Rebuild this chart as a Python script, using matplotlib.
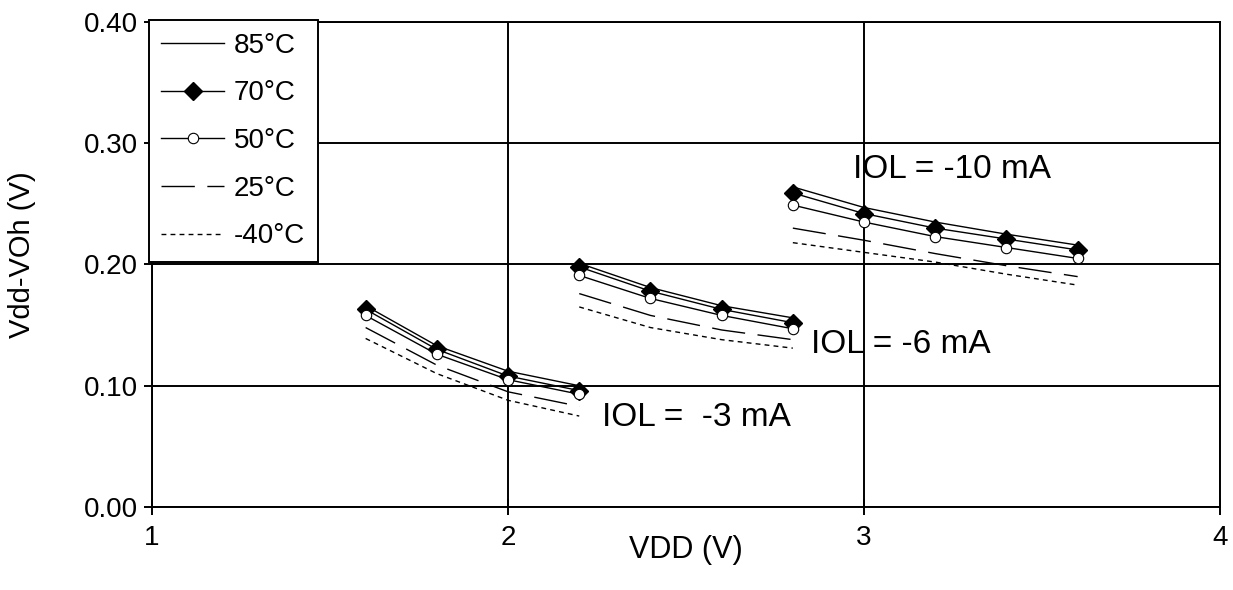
# %%
# Vdd-VOh vs VDD for three IOL loads at five temperatures
import numpy as np
import matplotlib.pyplot as plt

plt.rcParams['font.family'] = ['Liberation Sans', 'DejaVu Sans']

# %%
# values
vdd_3ma = [1.6, 1.8, 2.0, 2.2]
vdd_6ma = [2.2, 2.4, 2.6, 2.8]
vdd_10ma = [2.8, 3.0, 3.2, 3.4, 3.6]

temps = ['85°C', '70°C', '50°C', '25°C', '-40°C']

v_3ma = {
    '85°C': [0.166, 0.133, 0.112, 0.100],
    '70°C': [0.163, 0.130, 0.108, 0.096],
    '50°C': [0.158, 0.126, 0.105, 0.093],
    '25°C': [0.148, 0.117, 0.095, 0.083],
    '-40°C': [0.139, 0.110, 0.088, 0.075],
}
v_6ma = {
    '85°C': [0.201, 0.181, 0.166, 0.156],
    '70°C': [0.198, 0.178, 0.163, 0.152],
    '50°C': [0.191, 0.172, 0.158, 0.147],
    '25°C': [0.176, 0.158, 0.146, 0.138],
    '-40°C': [0.165, 0.148, 0.138, 0.131],
}
v_10ma = {
    '85°C': [0.264, 0.247, 0.235, 0.225, 0.216],
    '70°C': [0.259, 0.242, 0.230, 0.221, 0.212],
    '50°C': [0.249, 0.235, 0.223, 0.214, 0.205],
    '25°C': [0.230, 0.220, 0.209, 0.199, 0.190],
    '-40°C': [0.218, 0.210, 0.202, 0.192, 0.183],
}

# line style for each temperature
styles = {
    '85°C': dict(ls='-'),
    '70°C': dict(ls='-', marker='D', ms=9, mfc='black', mec='black'),
    '50°C': dict(ls='-', marker='o', ms=7.5, mfc='white', mec='black', mew=0.8),
    '25°C': dict(ls=(0, (24, 9))),
    '-40°C': dict(ls=(0, (3.5, 3))),
}

# %%
fig = plt.figure(figsize=(12.33, 5.90), dpi=100)
ax = fig.add_axes([0.1233, 0.1407, 0.8662, 0.8220])

groups = [(vdd_3ma, v_3ma), (vdd_6ma, v_6ma), (vdd_10ma, v_10ma)]
for i, (x, vals) in enumerate(groups):
    for t in temps:
        ax.plot(x, vals[t], color='black', lw=1.0,
                label=t if i == 0 else None, **styles[t])

ax.set_xlim(1, 4)
ax.set_ylim(0, 0.40)
ax.set_xticks([1, 2, 3, 4])
ax.set_yticks([0.0, 0.1, 0.2, 0.3, 0.4])
ax.set_yticklabels(['0.00', '0.10', '0.20', '0.30', '0.40'])
ax.grid(True, color='black', lw=1.4)
ax.set_axisbelow(True)
for s in ax.spines.values():
    s.set_linewidth(1.4)
ax.tick_params(direction='inout', length=12, width=1.4, labelsize=20)
ax.tick_params(axis='x', pad=7)
ax.tick_params(axis='y', pad=4)

ax.set_xlabel('VDD (V)', fontsize=22)
ax.xaxis.set_label_coords(0.5, -0.089)
ax.xaxis.label.set_va('center')
ax.set_ylabel('Vdd-VOh (V)', fontsize=21)
ax.yaxis.set_label_coords(-0.122, 0.52)
ax.yaxis.label.set_va('center')

ax.text(2.97, 0.278, 'IOL = -10 mA', fontsize=24, va='center')
ax.text(2.85, 0.134, 'IOL = -6 mA', fontsize=24, va='center')
ax.text(2.264, 0.074, 'IOL =  -3 mA', fontsize=24, va='center')

leg = ax.legend(loc='upper left', bbox_to_anchor=(-0.003, 1.004),
                fontsize=20, handlelength=2.25, handletextpad=0.36,
                labelspacing=0.78, borderpad=0.45, borderaxespad=0,
                fancybox=False, framealpha=1, edgecolor='black')
leg.get_frame().set_linewidth(1.4)

fig.savefig('out.png', dpi=100)
